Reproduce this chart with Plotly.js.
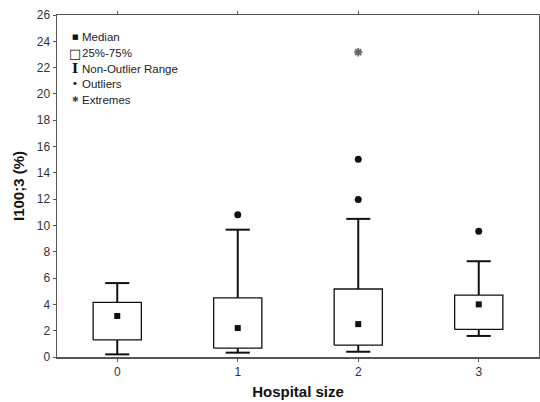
<!DOCTYPE html>
<html>
<head>
<meta charset="utf-8">
<script src="https://cdn.plot.ly/plotly-3.0.1.min.js"></script>
<style>html,body{margin:0;padding:0;background:#fff;}#chart{width:540px;height:402px;}</style>
</head>
<body>
<div id="chart"></div>
<script>
// Data
const categories = [0, 1, 2, 3];
const tickLabels = ['0', '1', '2', '3'];
const q1 = [1.3, 0.67, 0.91, 2.1];
const median = [3.12, 2.2, 2.5, 4.0];
const q3 = [4.15, 4.5, 5.17, 4.71];
const whiskerLow = [0.2, 0.33, 0.4, 1.6];
const whiskerHigh = [5.62, 9.68, 10.5, 7.28];
const outlierX = [1, 2, 2, 3];
const outlierY = [10.82, 11.97, 15.03, 9.56];
const extremeX = [2];
const extremeY = [23.17];
const legendLabels = ['Median', '25%-75%', 'Non-Outlier Range', 'Outliers', 'Extremes'];
const legendSymbols = ['■', '□', 'I', '•', '✱'];

const boxHalf = 0.2, capHalf = 0.1;
const wx = [], wy = [], cx = [], cy = [], bx = [], by = [];
categories.forEach((c, i) => {
  wx.push(c, c, null); wy.push(whiskerLow[i], whiskerHigh[i], null);
  cx.push(c - capHalf, c + capHalf, null, c - capHalf, c + capHalf, null);
  cy.push(whiskerHigh[i], whiskerHigh[i], null, whiskerLow[i], whiskerLow[i], null);
  bx.push(c - boxHalf, c + boxHalf, c + boxHalf, c - boxHalf, c - boxHalf, null);
  by.push(q1[i], q1[i], q3[i], q3[i], q1[i], null);
});

const ink = '#111';
const traces = [
  {x: wx, y: wy, mode: 'lines', line: {color: ink, width: 2}, name: legendLabels[2], showlegend: false, hoverinfo: 'skip'},
  {x: cx, y: cy, mode: 'lines', line: {color: ink, width: 2}, showlegend: false, hoverinfo: 'skip'},
  {x: bx, y: by, mode: 'lines', fill: 'toself', fillcolor: '#fff', line: {color: ink, width: 1.3},
   name: legendLabels[1], showlegend: false},
  {x: categories, y: median, mode: 'markers', marker: {symbol: 'square', size: 6, color: ink},
   name: legendLabels[0], showlegend: false},
  {x: outlierX, y: outlierY, mode: 'markers', marker: {symbol: 'circle', size: 7, color: ink},
   name: legendLabels[3], showlegend: false},
  {x: extremeX, y: extremeY, mode: 'markers', marker: {symbol: 'asterisk-open', size: 7, color: '#666', line: {color: '#666', width: 1.8}},
   name: legendLabels[4], showlegend: false}
];

// Legend drawn as text annotations, laid out like the original
const rowY = [37, 53, 68.5, 84, 100];
const symStyle = [
  {size: 7, family: 'DejaVu Sans'},
  {size: 13, family: 'DejaVu Sans'},
  {size: 13, family: 'DejaVu Serif', weight: 'bold'},
  {size: 10, family: 'DejaVu Sans'},
  {size: 8, family: 'DejaVu Sans'}
];
const annotations = [];
legendLabels.forEach((lab, i) => {
  const py = (357 - rowY[i]) / 342;
  annotations.push({xref: 'paper', yref: 'paper', x: 0.0375, y: py, xanchor: 'center', yanchor: 'middle',
    text: legendSymbols[i], showarrow: false,
    font: Object.assign({color: i === 4 ? '#444' : '#111'}, symStyle[i])});
  annotations.push({xref: 'paper', yref: 'paper', x: 0.047, y: py, xanchor: 'left', yanchor: 'middle',
    text: lab, showarrow: false, font: {size: 11.5, color: '#222', family: 'Liberation Sans, Arial, sans-serif'}});
});

const layout = {
  width: 540, height: 402,
  margin: {l: 57, r: 1, t: 15, b: 45},
  paper_bgcolor: '#fff', plot_bgcolor: '#fff',
  font: {family: 'Liberation Sans, Arial, sans-serif', size: 12, color: '#333'},
  showlegend: false,
  annotations: annotations,
  xaxis: {
    range: [-0.5, 3.5], tickvals: categories, ticktext: tickLabels,
    showgrid: false, zeroline: false, showline: true, linecolor: '#555', linewidth: 1.5,
    mirror: 'ticks', ticks: 'outside', ticklen: 3, tickcolor: '#555',
    tickfont: {size: 12, color: '#333'},
    title: {text: 'Hospital size', font: {size: 15, color: '#111', family: 'Liberation Sans, Arial, sans-serif', weight: 'bold'}, standoff: 8}
  },
  yaxis: {
    range: [0, 26], dtick: 2,
    showgrid: false, zeroline: false, showline: true, linecolor: '#555', linewidth: 1.5,
    mirror: 'ticks', ticks: 'outside', ticklen: 3, tickcolor: '#555',
    tickfont: {size: 12, color: '#333'},
    title: {text: 'I100;3 (%)', font: {size: 15, color: '#111', family: 'Liberation Sans, Arial, sans-serif', weight: 'bold'}, standoff: 8}
  }
};

Plotly.newPlot('chart', traces, layout, {displayModeBar: false, staticPlot: true});
</script>
</body>
</html>
